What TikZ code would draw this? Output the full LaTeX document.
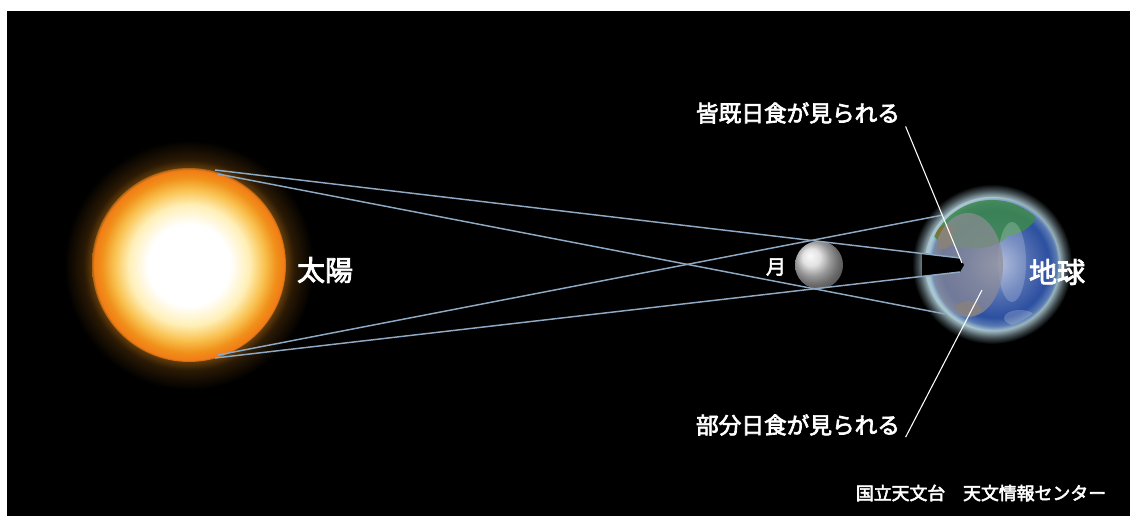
\documentclass[tikz,border=0pt]{standalone}
\usepackage{fontspec}
\newfontfamily\jpfont{Noto Sans CJK JP}[FakeBold=3]
\usepackage{tikz}

\definecolor{ray}{HTML}{8EA9C3}
\definecolor{sunorange}{HTML}{F0911A}
\definecolor{sunyellow}{HTML}{FFE070}
\definecolor{halo}{HTML}{A9C6D0}
\definecolor{earthblue}{HTML}{2C4FA0}
\definecolor{land}{HTML}{3E8A4C}
\definecolor{soil}{HTML}{8C6A2E}
\definecolor{shadowgray}{HTML}{8E8C96}

\pgfdeclareradialshading{sunglow}{\pgfpoint{0bp}{0bp}}{color(0bp)=(sunorange!55!black); color(19.4bp)=(sunorange!40!black); color(21bp)=(sunorange!18!black); color(25bp)=(black); color(50bp)=(black)}
\pgfdeclareradialshading{sunball}{\pgfpoint{0bp}{0bp}}{color(0bp)=(white); color(10.5bp)=(white); color(15.5bp)=(sunyellow!50!white); color(19.5bp)=(sunyellow!60!sunorange); color(22.5bp)=(sunorange); color(24.5bp)=(sunorange!85!red); color(25bp)=(sunorange!70!black); color(50bp)=(sunorange!70!black)}
\pgfdeclareradialshading{earthglow}{\pgfpoint{0bp}{0bp}}{color(0bp)=(halo); color(21bp)=(halo!90!black); color(23bp)=(halo!40!black); color(25bp)=(black); color(50bp)=(black)}
\pgfdeclareradialshading{earthball}{\pgfpoint{2bp}{0bp}}{color(0bp)=(earthblue!45!white); color(11bp)=(earthblue!80!white); color(20bp)=(earthblue); color(23bp)=(earthblue!65!halo); color(25bp)=(halo); color(50bp)=(halo)}

\begin{document}
\begin{tikzpicture}[x=0.75pt,y=-0.75pt]
	\useasboundingbox (0,0) rectangle (1130,516);
	\fill[white] (0,0) rectangle (1130,516);
	\fill[black] (7,11) rectangle (1130,516);

	\shade[shading=sunglow] (189,265) circle (125);
	\shade[shading=sunball] (189,265) circle (97);

	\shade[shading=earthglow] (992,264) circle (80);
	\shade[shading=earthball] (992,264) circle (67);
	\begin{scope}
		\clip (992,264) circle (64);
		\fill[land, opacity=0.85] (930,222) .. controls (950,196) and (1000,192) .. (1030,205)
			.. controls (1045,215) and (1030,232) .. (1008,236)
			.. controls (995,250) and (970,250) .. (955,246)
			.. controls (940,244) and (928,236) .. (930,222) -- cycle;
		\fill[soil, opacity=0.8] (936,232) .. controls (942,222) and (952,222) .. (954,232)
			.. controls (956,244) and (946,252) .. (938,248) -- cycle;
		\fill[soil, opacity=0.7] (955,306) .. controls (965,298) and (978,300) .. (982,310)
			.. controls (975,318) and (960,318) .. (955,306) -- cycle;
		\fill[white, opacity=0.2] (1012,262) ellipse [x radius=14, y radius=40];
		\fill[white, opacity=0.2] (1020,318) ellipse [x radius=16, y radius=8];
	\end{scope}
	\fill[shadowgray, opacity=0.7] (968,265) ellipse [x radius=35, y radius=52];

	\shade[ball color=gray!30!white] (819,265) circle (24);

	\fill[black] (922,253) -- (960,258) -- (964,265) -- (960,272) -- (922,276) -- cycle;

	\coordinate (S1) at (215,170);
	\coordinate (S2) at (218,174);
	\coordinate (S3) at (215,358);
	\coordinate (S4) at (218,355);
	\coordinate (E1) at (960,258);
	\coordinate (E2) at (945,314);
	\coordinate (E3) at (960,272);
	\coordinate (E4) at (943,215);
	\coordinate (U) at (962,263);
	\coordinate (P) at (982,290);

	\begin{scope}[every edge/.style={draw=ray,line width=1.1pt}]
		\path (S1) edge (E1);
		\path (S2) edge (E2);
		\path (S3) edge (E3);
		\path (S4) edge (E4);
	\end{scope}

	\begin{scope}[every node/.style={text=white,inner sep=0pt,font=\jpfont}]
		\node (sun) at (325,270) {\fontsize{21pt}{21pt}\selectfont 太陽};
		\node (earth) at (1057,272) {\fontsize{21pt}{21pt}\selectfont 地球};
		\node (moon) at (776,267) {\fontsize{15pt}{15pt}\selectfont 月};
		\node (total) at (798,113) {\fontsize{17pt}{17pt}\selectfont 皆既日食が見られる};
		\node (partial) at (798,425) {\fontsize{17pt}{17pt}\selectfont 部分日食が見られる};
		\node (credit) at (981,493) {\fontsize{13.4pt}{13.4pt}\selectfont 国立天文台　天文情報センター};
	\end{scope}

	\begin{scope}[white,line width=0.8pt]
		\draw ([xshift=4pt,yshift=-2pt]total.south east) -- (U);
		\draw ([xshift=4pt,yshift=-1pt]partial.south east) -- (P);
	\end{scope}
\end{tikzpicture}
\end{document}
